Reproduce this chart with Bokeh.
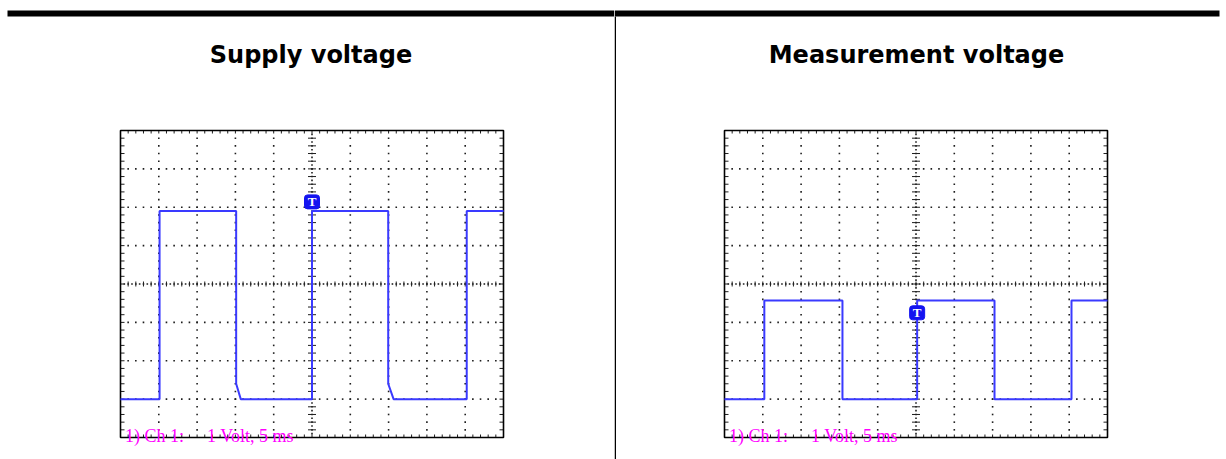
import numpy as np
from bokeh.plotting import figure
from bokeh.models import Range1d
from bokeh.layouts import row
from bokeh.core.properties import value
from bokeh.embed import file_html
from bokeh.resources import INLINE

# ---------------- data ----------------
titles = ["Supply voltage", "Measurement voltage"]
label_channel = "1) Ch 1:"
label_scale = "1 Volt, 5 ms"

# scope settings: 10 x 8 divisions, 5 ms/div, 1 V/div
n_div_x = 10
n_div_y = 8
ms_per_div = 5
volt_per_div = 1

# supply voltage trace (time in ms, voltage in V)
supply_t = [0.0, 5.1, 5.1, 15.1, 15.1, 15.7, 25.0, 25.0, 34.95, 34.95, 35.65, 45.2, 45.2, 50.0]
supply_v = [-3.0, -3.0, 1.9, 1.9, -2.6, -3.0, -3.0, 1.9, 1.9, -2.6, -3.0, -3.0, 1.9, 1.9]

# measurement voltage trace
measure_t = [0.0, 5.2, 5.2, 15.4, 15.4, 25.15, 25.15, 35.25, 35.25, 45.3, 45.3, 50.0]
measure_v = [-3.0, -3.0, -0.43, -0.43, -3.0, -3.0, -0.43, -0.43, -3.0, -3.0, -0.43, -0.43]

# trigger markers (time ms, level V)
supply_trigger_t = [25.0]
supply_trigger_v = [2.14]
measure_trigger_t = [25.15]
measure_trigger_v = [-0.75]

# ---------------- layout constants (pixels) ----------------
BOX_W = 383
BOX_H = 307
BOX_TOP = 130
FIG_H = 459

SIGNAL = "#3a3aff"
MARK = "#1414f0"
DOT = "#1e1e1e"


def make_panel(W, box_left, title, title_cx, bar_l, bar_r, t, v, trig_t, trig_v, divider):
    t_max = n_div_x * ms_per_div
    v_half = n_div_y * volt_per_div / 2
    sx = BOX_W / t_max
    sy = BOX_H / (2 * v_half)
    x0 = -box_left / sx
    x1 = (W - box_left) / sx
    y1 = v_half + BOX_TOP / sy
    y0 = y1 - FIG_H / sy

    def X(px):
        return x0 + px / sx

    def Y(py):
        return y1 - py / sy

    def dx(px):
        return px / sx

    def dy(py):
        return py / sy

    p = figure(width=W, height=FIG_H, x_range=Range1d(x0, x1), y_range=Range1d(y0, y1),
               output_backend="svg", toolbar_location=None, min_border=0,
               x_axis_location=None, y_axis_location=None)
    p.xgrid.visible = False
    p.ygrid.visible = False
    p.outline_line_color = None
    p.background_fill_color = "white"
    p.border_fill_color = "white"

    # top black bar
    p.quad(left=[X(bar_l)], right=[X(bar_r)], top=[Y(10)], bottom=[Y(16)], color="black", line_color=None)
    if divider:
        p.segment(x0=[X(0.75)], y0=[Y(16)], x1=[X(0.75)], y1=[y0], line_color="black", line_width=1.5)

    # title
    p.text(x=[X(title_cx)], y=[Y(54.5)], text=[title], text_align="center",
           text_baseline="alphabetic", text_font=value("DejaVu Sans"),
           text_font_style="bold", text_font_size="24px", text_color="black")

    # ---- graticule ----
    tc = t_max / 2
    major_t = [k * ms_per_div for k in range(1, n_div_x) if k * ms_per_div != tc]
    major_v = [k * volt_per_div for k in range(-3, 4) if k != 0]
    minor_t = np.arange(0, t_max + 1e-9, ms_per_div / 5)
    minor_v = np.arange(-v_half, v_half + 1e-9, volt_per_div / 5)

    dots_x, dots_y = [], []
    for mt in major_t:
        for mv in minor_v[1:-1]:
            dots_x.append(mt); dots_y.append(mv)
    for mv in major_v:
        for mt in minor_t[1:-1]:
            dots_x.append(mt); dots_y.append(mv)
    # center lines: finer dots
    for mv in np.arange(-v_half + 0.1, v_half, 0.1):
        dots_x.append(tc); dots_y.append(mv)
    for mt in np.arange(0.5, t_max, 0.5):
        dots_x.append(mt); dots_y.append(0.0)
    p.scatter(x=dots_x, y=dots_y, marker="square", size=1.6, color=DOT, line_color=None)

    # center ticks
    cv = minor_v[1:-1]
    p.segment(x0=[tc - dx(4)] * len(cv), y0=cv, x1=[tc + dx(4)] * len(cv), y1=cv,
              line_color=DOT, line_width=1)
    ct = minor_t[1:-1]
    p.segment(x0=ct, y0=[-dy(2.5)] * len(ct), x1=ct, y1=[dy(2.5)] * len(ct),
              line_color=DOT, line_width=1)

    # border ticks
    p.segment(x0=[0] * len(cv), y0=cv, x1=[dx(4)] * len(cv), y1=cv, line_color=DOT, line_width=1)
    p.segment(x0=[t_max] * len(cv), y0=cv, x1=[t_max - dx(4)] * len(cv), y1=cv, line_color=DOT, line_width=1)
    p.segment(x0=ct, y0=[v_half] * len(ct), x1=ct, y1=[v_half - dy(3)] * len(ct), line_color=DOT, line_width=1)
    p.segment(x0=ct, y0=[-v_half] * len(ct), x1=ct, y1=[-v_half + dy(3)] * len(ct), line_color=DOT, line_width=1)

    # border
    p.quad(left=[0], right=[t_max], bottom=[-v_half], top=[v_half], fill_color=None,
           line_color="black", line_width=1.6)

    # signal
    p.line(x=t, y=v, line_color=SIGNAL, line_width=2)

    # trigger marker
    p.rect(x=trig_t, y=trig_v, width=15, height=14, width_units="screen", height_units="screen",
           fill_color=MARK, line_color=MARK, border_radius=3)
    p.text(x=trig_t, y=trig_v, text=["T"], text_align="center", text_baseline="middle",
           text_font=value("Liberation Serif"), text_font_style="bold", text_font_size="13px",
           text_color="white")

    # channel label
    p.text(x=[0.6], y=[-v_half + dy(2)], text=[label_channel], text_align="left",
           text_baseline="alphabetic", text_font=value("Liberation Serif"),
           text_font_size="18px", text_color="#ff00ff")
    p.text(x=[11.3], y=[-v_half + dy(2)], text=[label_scale], text_align="left",
           text_baseline="alphabetic", text_font=value("Liberation Serif"),
           text_font_size="18px", text_color="#ff00ff")
    return p


p1 = make_panel(614, 120, titles[0], 310.5, 7, 614, supply_t, supply_v,
                supply_trigger_t, supply_trigger_v, False)
p2 = make_panel(612, 110, titles[1], 302, 0, 605, measure_t, measure_v,
                measure_trigger_t, measure_trigger_v, True)

layout = row(p1, p2)
open("out.html", "w").write(file_html(layout, INLINE))
